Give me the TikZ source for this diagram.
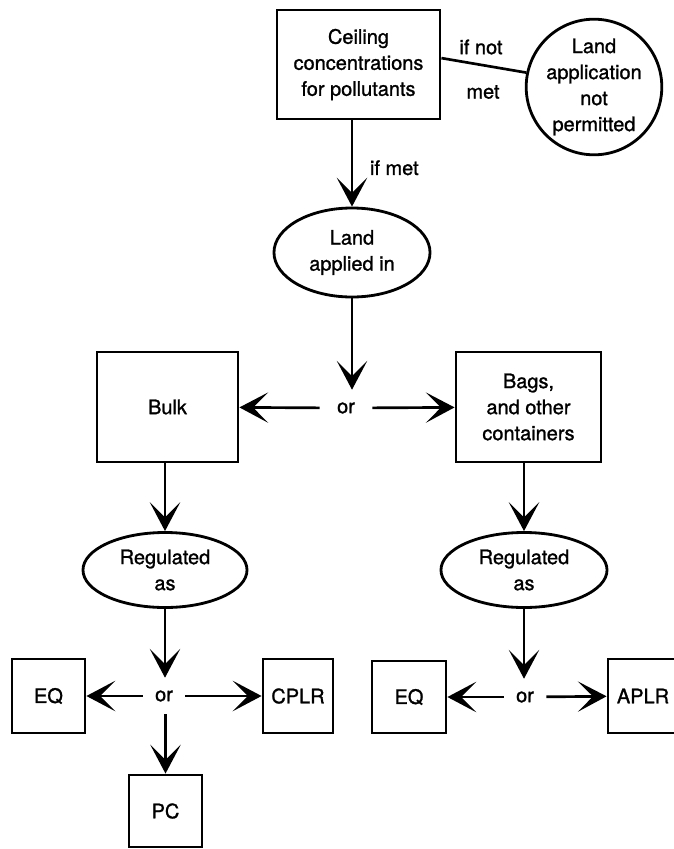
\documentclass[tikz,border=0pt]{standalone}
\usepackage{fontspec}
\setmainfont{TeX Gyre Heros}[FakeBold=1.2]
\usetikzlibrary{arrows.meta}
\usetikzlibrary{shapes.geometric}
\tikzset{box/.style={draw, line width=2pt, align=center, inner sep=0pt},
oval/.style={draw, ellipse, line width=2pt, align=center, inner sep=0pt},
orword/.style={inner sep=0pt, minimum width=1.05cm, minimum height=0.9cm},
flow/.style={line width=1.9pt, -{Stealth[length=0.72cm, width=0.76cm, inset=0.38cm]}}}

\begin{document}
\begin{tikzpicture}[x=0.025cm, y=-0.025cm, font=\fontsize{14.2pt}{18.5pt}\selectfont]
	\useasboundingbox (0,0) rectangle (673,849);
	% top: ceiling test
	\node[box, minimum width=4.075cm, minimum height=2.725cm] (ceil) at (358.5,64.5) {Ceiling\\concentrations\\for pollutants};
	\node[box, circle, minimum size=3.2cm] (nogo) at (594,87) {Land\\application\\not\\permitted};
	\node (ifnot) at (481,47) {if not};
	\node (notmet) at (483,92) {met};
	\node[oval, minimum width=3.9cm, minimum height=2.225cm] (land) at (352,252.5) {Land\\applied in};
	% bulk or bags
	\node[orword, minimum width=1.3cm] (or1) at (346,408) {or};
	\node[box, minimum width=3.525cm, minimum height=2.75cm] (bulk) at (167.5,407) {Bulk};
	\node[box, minimum width=3.625cm, minimum height=2.75cm] (bags) at (528.5,407) {Bags,\\and other\\containers};
	\node[oval, minimum width=4.1cm, minimum height=1.875cm] (regL) at (165,570) {Regulated\\as};
	\node[oval, minimum width=4.15cm, minimum height=1.875cm] (regR) at (524,570) {Regulated\\as};
	% bottom rows
	\node[orword] (orL) at (164,696) {or};
	\node[box, minimum width=1.825cm, minimum height=1.85cm] (eqL) at (48.5,696) {EQ};
	\node[box, minimum width=1.75cm, minimum height=1.85cm] (cplr) at (298,696) {CPLR};
	\node[box, minimum width=1.825cm, minimum height=1.8cm] (pc) at (165.5,811) {PC};
	\node[orword] (orR) at (525,697) {or};
	\node[box, minimum width=1.85cm, minimum height=1.8cm] (eqR) at (409,697) {EQ};
	\node[box, minimum width=1.75cm, minimum height=1.85cm] (aplr) at (643,696) {APLR};

	\draw[line width=1.9pt] ([yshift=0.16cm]ceil.east) -- (nogo.168);
	\draw[flow] (ceil.south -| land.north) -- node[right=0.3cm, pos=0.55] (ifmet) {if met} (land.north);
	\draw[flow] (land.south) -- (land.south |- or1.north);
	\draw[flow] (or1) -- (bulk);
	\draw[flow] (or1) -- (bags);
	\draw[flow] (bulk.south -| regL.north) -- (regL.north);
	\draw[flow] (bags.south -| regR.north) -- (regR.north);
	\draw[flow] (regL.south) -- (regL.south |- orL.north);
	\draw[flow] (orL) -- (eqL);
	\draw[flow] (orL) -- (cplr);
	\draw[flow] (orL.south -| pc.north) -- (pc.north);
	\draw[flow] (regR.south) -- (regR.south |- orR.north);
	\draw[flow] (orR) -- (eqR);
	\draw[flow] (orR) -- (aplr);
\end{tikzpicture}
\end{document}
